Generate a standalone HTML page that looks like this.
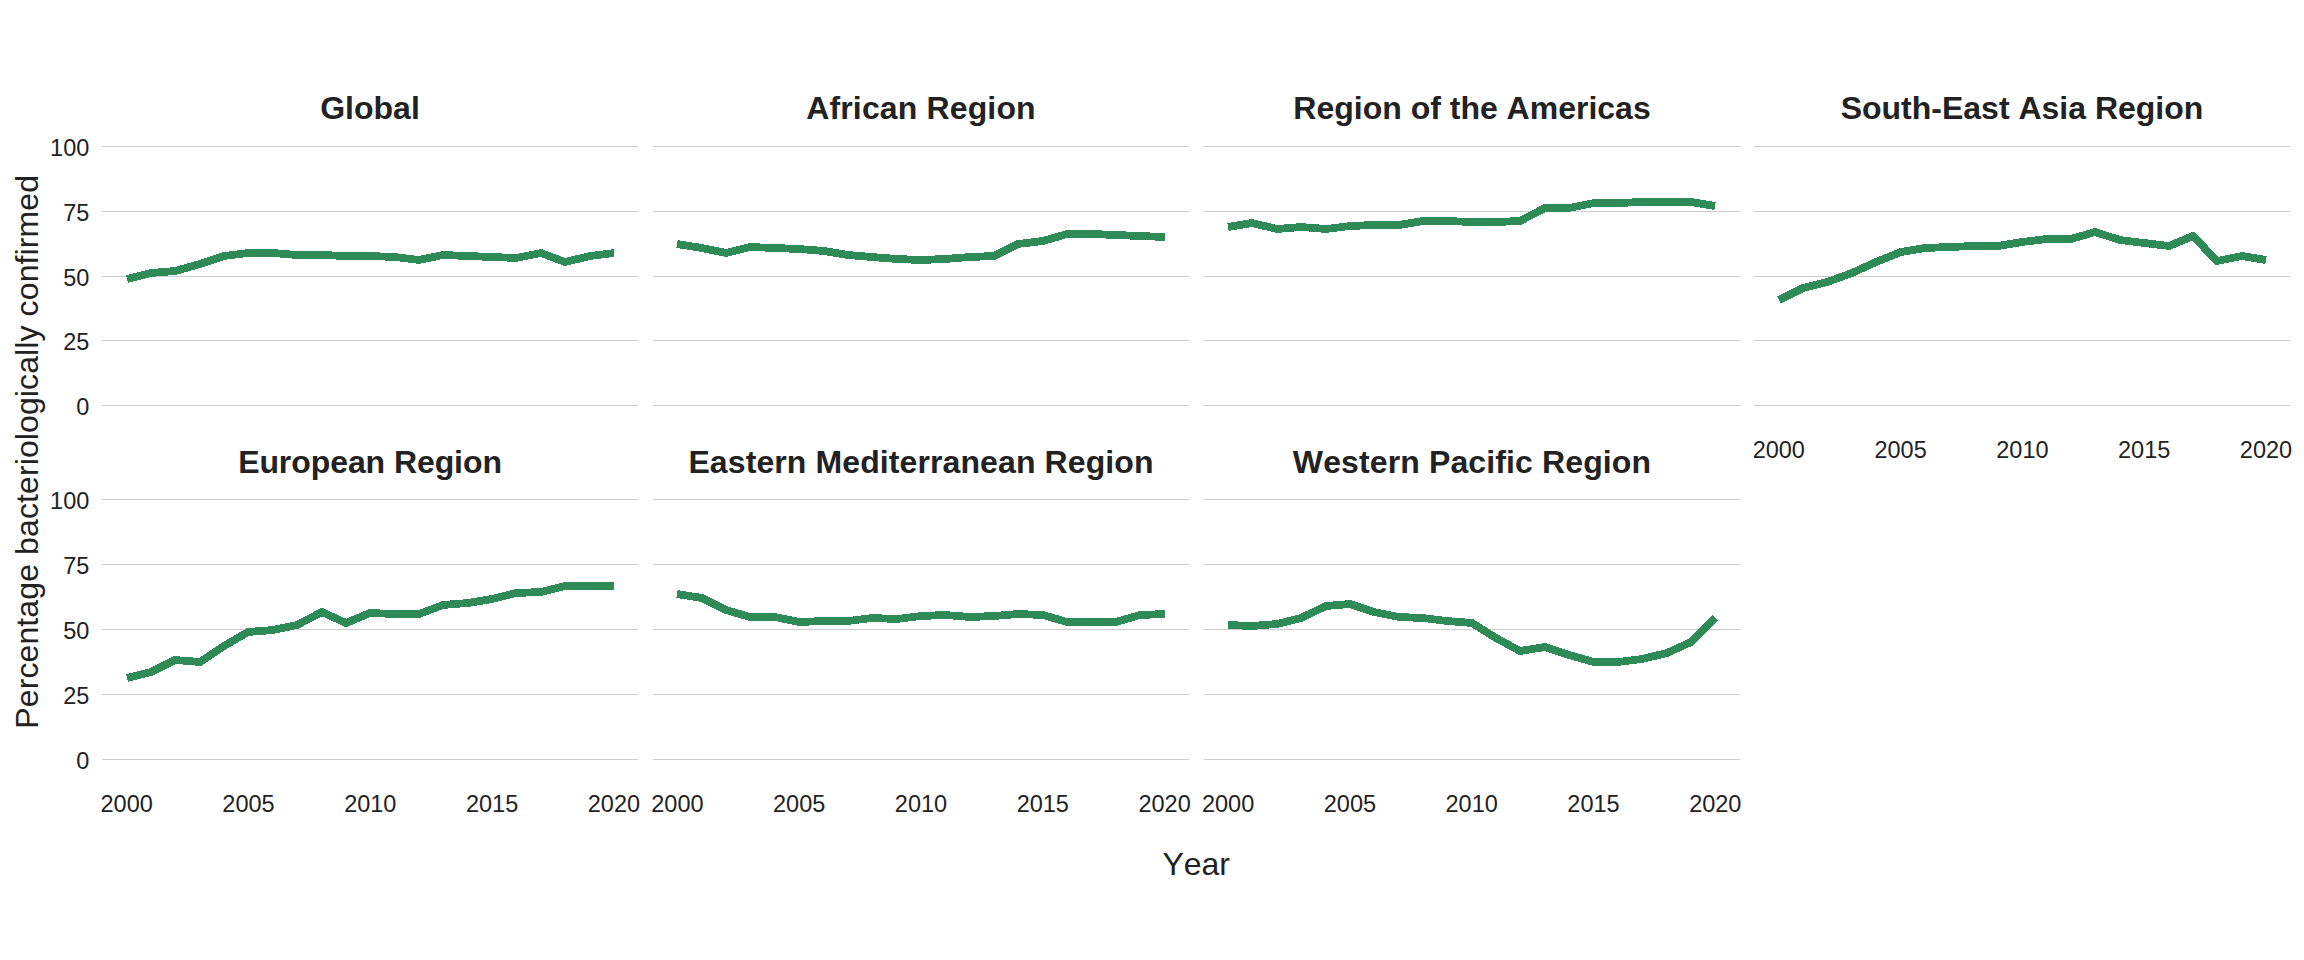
<!DOCTYPE html>
<html lang="en"><head><meta charset="utf-8"><title>Percentage bacteriologically confirmed</title>
<style>html,body{margin:0;padding:0;background:#fff}body{width:2304px;height:960px;overflow:hidden}svg{display:block}text{font-family:"Liberation Sans",Arial,sans-serif;font-kerning:none}.st{font-size:32px;font-weight:bold;fill:#222222;text-anchor:middle}.at{font-size:32px;fill:#222222;text-anchor:middle}.yl{font-size:23.5px;fill:#222222;text-anchor:end}.xl{font-size:23.5px;fill:#222222;text-anchor:middle}.g{fill:#CCCCCC;shape-rendering:crispEdges}.ln{fill:none;stroke:#2E8B57;stroke-width:7.8;stroke-linejoin:round;stroke-linecap:butt;shape-rendering:crispEdges}</style></head><body>
<svg width="2304" height="960" viewBox="0 0 2304 960">
<rect width="2304" height="960" fill="#fff"/>
<g>
<rect class="g" x="102" y="146" width="536" height="1"/>
<rect class="g" x="102" y="211" width="536" height="1"/>
<rect class="g" x="102" y="276" width="536" height="1"/>
<rect class="g" x="102" y="340" width="536" height="1"/>
<rect class="g" x="102" y="405" width="536" height="1"/>
<text class="st" x="370.0" y="119.1">Global</text>
<polyline class="ln" points="127,279 151,273 175,271 200,264 224,256 248,253 273,253 297,255 322,255 346,256 370,256 395,257 419,260 443,255 468,256 492,257 516,258 541,253 565,262 590,256 614,253"/>
<text class="yl" x="89.3" y="155.9">100</text>
<text class="yl" x="89.3" y="220.9">75</text>
<text class="yl" x="89.3" y="285.9">50</text>
<text class="yl" x="89.3" y="349.9">25</text>
<text class="yl" x="89.3" y="414.9">0</text>
</g>
<g>
<rect class="g" x="653" y="146" width="536" height="1"/>
<rect class="g" x="653" y="211" width="536" height="1"/>
<rect class="g" x="653" y="276" width="536" height="1"/>
<rect class="g" x="653" y="340" width="536" height="1"/>
<rect class="g" x="653" y="405" width="536" height="1"/>
<text class="st" style="letter-spacing:0.14px" x="921.0" y="119.1">African Region</text>
<polyline class="ln" points="677,244 702,248 726,253 750,247 775,248 799,249 824,251 848,255 872,257 897,259 921,260 945,259 970,257 994,256 1018,244 1043,241 1067,234 1092,234 1116,235 1140,236 1165,237"/>
</g>
<g>
<rect class="g" x="1204" y="146" width="536" height="1"/>
<rect class="g" x="1204" y="211" width="536" height="1"/>
<rect class="g" x="1204" y="276" width="536" height="1"/>
<rect class="g" x="1204" y="340" width="536" height="1"/>
<rect class="g" x="1204" y="405" width="536" height="1"/>
<text class="st" x="1472.0" y="119.1">Region of the Americas</text>
<polyline class="ln" points="1228,227 1252,223 1277,229 1301,227 1326,229 1350,226 1374,225 1399,225 1423,221 1447,221 1472,222 1496,222 1520,221 1545,208 1569,208 1594,203 1618,203 1642,202 1667,202 1691,202 1715,206"/>
</g>
<g>
<rect class="g" x="1754" y="146" width="536" height="1"/>
<rect class="g" x="1754" y="211" width="536" height="1"/>
<rect class="g" x="1754" y="276" width="536" height="1"/>
<rect class="g" x="1754" y="340" width="536" height="1"/>
<rect class="g" x="1754" y="405" width="536" height="1"/>
<text class="st" x="2022.0" y="119.1">South-East Asia Region</text>
<polyline class="ln" points="1779,300 1803,288 1827,282 1852,273 1876,262 1901,252 1925,248 1949,247 1974,246 1998,246 2022,242 2047,239 2071,239 2095,232 2120,240 2144,243 2169,246 2193,236 2217,261 2242,256 2266,260"/>
<text class="xl" x="1778.8" y="458.0">2000</text>
<text class="xl" x="1900.6" y="458.0">2005</text>
<text class="xl" x="2022.4" y="458.0">2010</text>
<text class="xl" x="2144.2" y="458.0">2015</text>
<text class="xl" x="2266.0" y="458.0">2020</text>
</g>
<g>
<rect class="g" x="102" y="499" width="536" height="1"/>
<rect class="g" x="102" y="564" width="536" height="1"/>
<rect class="g" x="102" y="629" width="536" height="1"/>
<rect class="g" x="102" y="694" width="536" height="1"/>
<rect class="g" x="102" y="759" width="536" height="1"/>
<text class="st" style="letter-spacing:-0.08px" x="370.0" y="472.5">European Region</text>
<polyline class="ln" points="127,678 151,672 175,660 200,662 224,646 248,632 273,630 297,625 322,612 346,623 370,613 395,614 419,614 443,605 468,603 492,599 516,593 541,592 565,586 590,586 614,586"/>
<text class="yl" x="89.3" y="508.9">100</text>
<text class="yl" x="89.3" y="573.9">75</text>
<text class="yl" x="89.3" y="638.9">50</text>
<text class="yl" x="89.3" y="703.9">25</text>
<text class="yl" x="89.3" y="768.9">0</text>
<text class="xl" x="126.7" y="812.0">2000</text>
<text class="xl" x="248.5" y="812.0">2005</text>
<text class="xl" x="370.3" y="812.0">2010</text>
<text class="xl" x="492.1" y="812.0">2015</text>
<text class="xl" x="613.9" y="812.0">2020</text>
</g>
<g>
<rect class="g" x="653" y="499" width="536" height="1"/>
<rect class="g" x="653" y="564" width="536" height="1"/>
<rect class="g" x="653" y="629" width="536" height="1"/>
<rect class="g" x="653" y="694" width="536" height="1"/>
<rect class="g" x="653" y="759" width="536" height="1"/>
<text class="st" style="letter-spacing:0.1px" x="921.0" y="472.5">Eastern Mediterranean Region</text>
<polyline class="ln" points="677,594 702,598 726,610 750,617 775,617 799,622 824,621 848,621 872,618 897,619 921,616 945,615 970,617 994,616 1018,614 1043,615 1067,622 1092,622 1116,622 1140,615 1165,614"/>
<text class="xl" x="677.4" y="812.0">2000</text>
<text class="xl" x="799.2" y="812.0">2005</text>
<text class="xl" x="921.0" y="812.0">2010</text>
<text class="xl" x="1042.8" y="812.0">2015</text>
<text class="xl" x="1164.6" y="812.0">2020</text>
</g>
<g>
<rect class="g" x="1204" y="499" width="536" height="1"/>
<rect class="g" x="1204" y="564" width="536" height="1"/>
<rect class="g" x="1204" y="629" width="536" height="1"/>
<rect class="g" x="1204" y="694" width="536" height="1"/>
<rect class="g" x="1204" y="759" width="536" height="1"/>
<text class="st" style="letter-spacing:0.12px" x="1472.0" y="472.5">Western Pacific Region</text>
<polyline class="ln" points="1228,625 1252,626 1277,624 1301,618 1326,606 1350,604 1374,612 1399,617 1423,618 1447,621 1472,623 1496,638 1520,651 1545,647 1569,655 1594,662 1618,662 1642,659 1667,653 1691,642 1715,618"/>
<text class="xl" x="1228.1" y="812.0">2000</text>
<text class="xl" x="1349.9" y="812.0">2005</text>
<text class="xl" x="1471.7" y="812.0">2010</text>
<text class="xl" x="1593.5" y="812.0">2015</text>
<text class="xl" x="1715.3" y="812.0">2020</text>
</g>
<text class="at" x="1196.2" y="874.9">Year</text>
<text class="at" style="letter-spacing:0.11px" transform="translate(38,451.8) rotate(-90)">Percentage bacteriologically confirmed</text>
</svg></body></html>
